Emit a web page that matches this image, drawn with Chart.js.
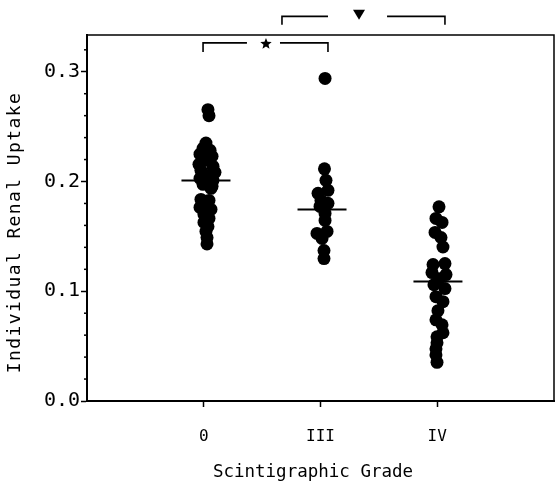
<!DOCTYPE html>
<html><head><meta charset="utf-8">
<script src="https://cdn.jsdelivr.net/npm/chart.js@4/dist/chart.umd.min.js"></script>
<style>html,body{margin:0;padding:0;background:#fff}canvas{display:block}</style>
</head><body>
<canvas id="c" width="557" height="481"></canvas>
<script>
const gradeLabels = ['0', 'III', 'IV'];
const gradePositions = [1, 2, 3];

const grade0Uptake = [0.2655, 0.260, 0.235, 0.2303, 0.2285, 0.2249, 0.2230, 0.2194, 0.2157, 0.2139, 0.2102, 0.2084, 0.2057, 0.2029, 0.2011, 0.1974, 0.1956, 0.1938, 0.1837, 0.1828, 0.1792, 0.1764, 0.1746, 0.1700, 0.1664, 0.1627, 0.1590, 0.1545, 0.1490, 0.1431];
const grade0X      = [1.036, 1.045, 1.019, 0.994, 1.054, 0.968, 1.071, 1.011, 0.959, 1.079, 0.976, 1.096, 1.019, 0.968, 1.079, 0.994, 1.071, 1.062, 0.976, 1.045, 1.019, 0.968, 1.062, 1.002, 1.045, 1.002, 1.036, 1.019, 1.028, 1.028];

const grade3Uptake = [0.2939, 0.2116, 0.2011, 0.1892, 0.1920, 0.1828, 0.1801, 0.1773, 0.1709, 0.1645, 0.1527, 0.1545, 0.1481, 0.1371, 0.1298];
const grade3X      = [2.039, 2.034, 2.047, 1.979, 2.064, 2.004, 2.064, 1.996, 2.039, 2.039, 1.970, 2.056, 2.013, 2.030, 2.030];

const grade4Uptake = [0.1769, 0.1664, 0.1627, 0.1536, 0.1490, 0.1403, 0.1243, 0.1252, 0.1170, 0.1152, 0.1115, 0.1060, 0.1024, 0.0951, 0.0905, 0.0823, 0.0740, 0.0695, 0.0622, 0.0585, 0.0530, 0.0475, 0.0420, 0.0352];
const grade4X      = [3.015, 2.989, 3.041, 2.981, 3.032, 3.049, 2.964, 3.066, 2.955, 3.075, 3.015, 2.972, 3.066, 2.989, 3.049, 3.006, 2.989, 3.041, 3.049, 2.998, 2.998, 2.989, 2.989, 2.998];

const medianUptake = [0.201, 0.1746, 0.109];
const medianX      = [1.019, 2.013, 3.006];

const yTickValues = [0, 0.1, 0.2, 0.3];
const yTickLabels = ['0.0', '0.1', '0.2', '0.3'];
const yMinorTicks = [0.02, 0.04, 0.06, 0.08, 0.12, 0.14, 0.16, 0.18, 0.22, 0.24, 0.26, 0.28, 0.32];

const xTitle = 'Scintigraphic Grade';
const yTitle = 'Individual Renal Uptake';

// significance brackets (comparison between groups)
const bracketFrom   = [0.994, 1.670];
const bracketTo     = [2.064, 3.066];
const bracketLevel  = [0.3263, 0.3505];
const bracketDrop   = [0.3180, 0.3428];
const bracketGapL   = [1.370, 2.064];
const bracketGapR   = [1.653, 2.570];
const bracketMarkX  = [1.533, 2.330];
const bracketMarkY  = [0.3254, 0.3520];
const bracketMark   = ['star', 'triangle'];

function pts(xs, ys) { return ys.map((v, i) => ({ x: xs[i], y: v })); }

const MONO = '"DejaVu Sans Mono", "Liberation Mono", monospace';

const decor = {
  id: 'decor',
  afterDraw(chart) {
    const ctx = chart.ctx, a = chart.chartArea;
    const xs = chart.scales.x, ys = chart.scales.y;
    ctx.save();
    ctx.strokeStyle = '#000';
    ctx.fillStyle = '#000';
    // frame top & right
    ctx.lineWidth = 1.5;
    ctx.beginPath();
    ctx.moveTo(a.left, a.top); ctx.lineTo(a.right, a.top); ctx.lineTo(a.right, a.bottom);
    ctx.stroke();
    // minor y ticks
    ctx.lineWidth = 1.5;
    yMinorTicks.forEach(v => {
      const y = ys.getPixelForValue(v);
      ctx.beginPath(); ctx.moveTo(a.left - 3, y); ctx.lineTo(a.left, y); ctx.stroke();
    });
    // brackets
    ctx.lineWidth = 1.6;
    for (let i = 0; i < bracketFrom.length; i++) {
      const x1 = xs.getPixelForValue(bracketFrom[i]);
      const x2 = xs.getPixelForValue(bracketTo[i]);
      const gl = xs.getPixelForValue(bracketGapL[i]);
      const gr = xs.getPixelForValue(bracketGapR[i]);
      const y = ys.getPixelForValue(bracketLevel[i]);
      const yd = ys.getPixelForValue(bracketDrop[i]);
      ctx.beginPath();
      ctx.moveTo(x1, yd); ctx.lineTo(x1, y); ctx.lineTo(gl, y);
      ctx.moveTo(gr, y); ctx.lineTo(x2, y); ctx.lineTo(x2, yd);
      ctx.stroke();
      const mx = xs.getPixelForValue(bracketMarkX[i]);
      const my = ys.getPixelForValue(bracketMarkY[i]);
      ctx.beginPath();
      if (bracketMark[i] === 'star') {
        const R = 6, r = 2.6;
        for (let k = 0; k < 10; k++) {
          const ang = -Math.PI / 2 + k * Math.PI / 5;
          const rr = k % 2 === 0 ? R : r;
          const px = mx + rr * Math.cos(ang), py = my + rr * Math.sin(ang);
          k === 0 ? ctx.moveTo(px, py) : ctx.lineTo(px, py);
        }
      } else {
        ctx.moveTo(mx - 6, my - 5); ctx.lineTo(mx + 6, my - 5); ctx.lineTo(mx, my + 5);
      }
      ctx.closePath();
      ctx.fill();
    }
    // axis titles
    ctx.font = '17.5px ' + MONO;
    ctx.textAlign = 'center';
    ctx.textBaseline = 'alphabetic';
    ctx.fillText(xTitle, 313, 477);
    ctx.save();
    ctx.translate(20, 232.5);
    ctx.rotate(-Math.PI / 2);
    ctx.font = '18px ' + MONO;
    if ('letterSpacing' in ctx) ctx.letterSpacing = '1.4px';
    ctx.fillText(yTitle, 0, 0);
    ctx.restore();
    ctx.restore();
  }
};

const dotStyle = { backgroundColor: '#000', borderWidth: 0, pointRadius: 6.5, pointHoverRadius: 6.5, showLine: false };

new Chart(document.getElementById('c'), {
  type: 'scatter',
  data: {
    datasets: [
      Object.assign({ label: gradeLabels[0], data: pts(grade0X, grade0Uptake) }, dotStyle),
      Object.assign({ label: gradeLabels[1], data: pts(grade3X, grade3Uptake) }, dotStyle),
      Object.assign({ label: gradeLabels[2], data: pts(grade4X, grade4Uptake) }, dotStyle),
      { label: 'median', data: pts(medianX, medianUptake), pointStyle: 'line', pointRadius: 24.5,
        pointHoverRadius: 24.5, borderColor: '#000', borderWidth: 2, backgroundColor: '#000' }
    ]
  },
  options: {
    responsive: false,
    devicePixelRatio: 1,
    animation: false,
    events: [],
    layout: { autoPadding: false, padding: { left: 0, top: 35, right: 3, bottom: 0 } },
    plugins: { legend: { display: false }, tooltip: { enabled: false } },
    scales: {
      x: {
        type: 'linear', min: 0, max: 4,
        afterBuildTicks: s => { s.ticks = gradePositions.map(v => ({ value: v })); },
        afterFit: s => { s.height = 80; },
        ticks: {
          callback: (v) => gradeLabels[gradePositions.indexOf(v)] ?? '',
          color: '#000', font: { family: MONO, size: 16 }, padding: 20, maxRotation: 0, autoSkip: false
        },
        grid: { drawOnChartArea: false, drawTicks: true, tickLength: 6, tickColor: '#000', tickWidth: 1.5 },
        border: { display: true, color: '#000', width: 2 }
      },
      y: {
        type: 'linear', min: 0, max: 0.3335,
        afterBuildTicks: s => { s.ticks = yTickValues.map(v => ({ value: v })); },
        afterFit: s => { s.width = 87; },
        ticks: {
          callback: (v) => yTickLabels[yTickValues.indexOf(v)] ?? '',
          color: '#000', font: { family: MONO, size: 20 }, padding: 1
        },
        grid: { drawOnChartArea: false, drawTicks: true, tickLength: 6, tickColor: '#000', tickWidth: 1.5 },
        border: { display: true, color: '#000', width: 2 }
      }
    }
  },
  plugins: [decor]
});
</script>
</body></html>
